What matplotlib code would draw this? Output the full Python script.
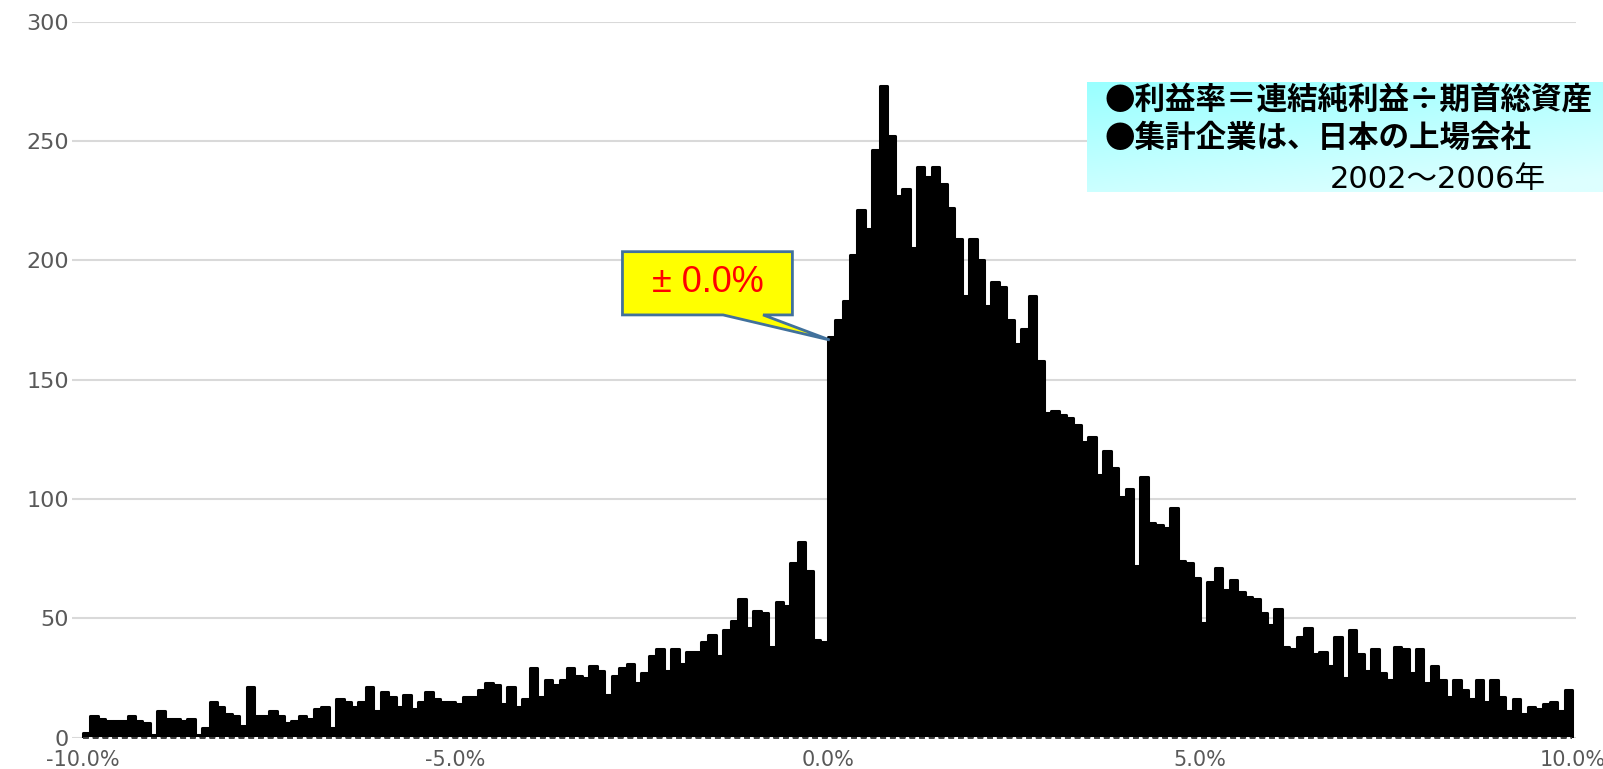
import numpy as np
import matplotlib
matplotlib.use("Agg")
import matplotlib.pyplot as plt
from matplotlib.patches import Polygon

# ---- data -------------------------------------------------------------
# histogram bins: 0.1%-wide classes from -10.0% to +10.0% (left edges)
bin_left = np.round(np.linspace(-10.0, 9.9, 200), 1)

counts_neg = [
    2, 9, 8, 7, 7, 7, 9, 7, 6, 1,        # -10.0 .. -9.1
    11, 8, 8, 7, 8, 1, 4, 15, 13, 10,    # -9.0 .. -8.1
    9, 5, 21, 9, 9, 11, 9, 6, 7, 9,      # -8.0 .. -7.1
    8, 12, 13, 4, 16, 15, 13, 15, 21, 11,  # -7.0 .. -6.1
    19, 17, 13, 18, 12, 15, 19, 16, 15, 15,  # -6.0 .. -5.1
    14, 17, 17, 20, 23, 22, 14, 21, 13, 16,  # -5.0 .. -4.1
    29, 17, 24, 22, 24, 29, 26, 25, 30, 28,  # -4.0 .. -3.1
    18, 26, 29, 31, 23, 27, 34, 37, 28, 37,  # -3.0 .. -2.1
    31, 36, 36, 40, 43, 34, 45, 49, 58, 46,  # -2.0 .. -1.1
    53, 52, 38, 57, 55, 73, 82, 70, 41, 40,  # -1.0 .. -0.1
]
counts_pos = [
    168, 175, 183, 202, 221, 213, 246, 273, 252, 227,  # 0.0 .. 0.9
    230, 205, 239, 235, 239, 232, 222, 209, 185, 209,  # 1.0 .. 1.9
    200, 181, 191, 189, 175, 165, 171, 185, 158, 136,  # 2.0 .. 2.9
    137, 135, 134, 131, 124, 126, 110, 120, 113, 101,  # 3.0 .. 3.9
    104, 72, 109, 90, 89, 88, 96, 74, 73, 67,          # 4.0 .. 4.9
    48, 65, 71, 62, 66, 61, 59, 58, 52, 47,            # 5.0 .. 5.9
    54, 38, 37, 42, 46, 35, 36, 30, 42, 25,            # 6.0 .. 6.9
    45, 35, 28, 37, 27, 24, 38, 37, 27, 37,            # 7.0 .. 7.9
    23, 30, 24, 17, 24, 20, 16, 24, 15, 24,            # 8.0 .. 8.9
    17, 11, 16, 10, 13, 12, 14, 15, 11, 20,            # 9.0 .. 9.9
]
counts = counts_neg + counts_pos

x_ticks = [-10, -5, 0, 5, 10]
x_tick_labels = ["-10.0%", "-5.0%", "0.0%", "5.0%", "10.0%"]
y_ticks = [0, 50, 100, 150, 200, 250, 300]

note_lines = ["●利益率＝連結純利益÷期首総資産", "●集計企業は、日本の上場会社", "2002～2006年"]
callout_text = "± 0.0%"

# ---- figure -----------------------------------------------------------
W, H = 1603, 769
fig = plt.figure(figsize=(W / 100, H / 100), dpi=100)
fig.patch.set_facecolor("white")

ax_l, ax_r, ax_t, ax_b = 72.0, 1576.1, 21.6, 737.6
x_lo = -10.0 - (82.9 - ax_l) / 74.5
ax = fig.add_axes([ax_l / W, 1 - ax_b / H, (ax_r - ax_l) / W, (ax_b - ax_t) / H])

ax.bar(bin_left, counts, width=0.1, align="edge", color="black",
       edgecolor="black", linewidth=2.2, joinstyle="round", zorder=2)

ax.set_xlim(x_lo, 10.05)
ax.set_ylim(0, 300)
ax.set_axisbelow(True)
ax.yaxis.grid(True, color="#d9d9d9", linewidth=1.5)
ax.xaxis.grid(False)
for s in ax.spines.values():
    s.set_visible(False)

ax.hlines(0, -10, 10, colors="#404040", linewidth=1.4,
          linestyles=(0, (3, 2)), gapcolor="white", zorder=4, clip_on=False)

x_font = dict(family="DejaVu Sans", size=15, color="#595959")
y_font = dict(family="DejaVu Sans", size=16, color="#595959")
ax.set_xticks(x_ticks)
ax.set_xticklabels(x_tick_labels, fontdict=x_font)
ax.set_yticks(y_ticks)
ax.set_yticklabels([str(v) for v in y_ticks], fontdict=y_font)
ax.tick_params(axis="both", length=0)
ax.tick_params(axis="x", pad=9)
ax.tick_params(axis="y", pad=2)

# ---- callout "± 0.0%" -------------------------------------------------
L, R, T, B = -2.755, -0.473, 203.6, 177.1
pb1, pb2 = -1.404, -0.867
tip = (0.028, 166.6)
poly = Polygon([(L, T), (R, T), (R, B), (pb2, B), tip, (pb1, B), (L, B)],
               closed=True, facecolor="#FFFF00", edgecolor="#41719C",
               linewidth=2, joinstyle="miter", zorder=6, clip_on=False)
ax.add_patch(poly)
ax.text((L + R) / 2, (T + B) / 2 + 0.5, callout_text, color="#FF0000",
        fontsize=26, family="Liberation Sans", ha="center", va="center",
        zorder=7)

# ---- note box with cyan gradient -------------------------------------
bx0, bx1, by0, by1 = 1086.7, 1603, 82.0, 191.7
bax = fig.add_axes([bx0 / W, 1 - by1 / H, (bx1 - bx0) / W, (by1 - by0) / H])
gy, gx = np.mgrid[0:1:100j, 0:1:200j]
t = np.clip(0.75 * gy + 0.35 * gx, 0, 1)
c0 = np.array([0x99, 0xFF, 0xFF]) / 255
c1 = np.array([0xDD, 0xFF, 0xFF]) / 255
img = c0[None, None, :] * (1 - t[..., None]) + c1[None, None, :] * t[..., None]
bax.imshow(img, aspect="auto", extent=(0, 1, 1, 0), interpolation="bilinear")
bax.set_axis_off()
bax.set_zorder(5)

jp_bold = dict(family=["Noto Sans CJK JP", "DejaVu Sans"], weight="bold",
               size=22, color="black")
jp_reg = dict(family=["DejaVu Sans", "Noto Sans CJK JP"], weight="normal",
              size=22, color="black")
t1 = fig.text(1104 / W, 1 - 99 / H, note_lines[0], ha="left", va="center", **jp_bold)
t2 = fig.text(1104 / W, 1 - 138 / H, note_lines[1], ha="left", va="center", **jp_bold)
t3 = fig.text(1330 / W, 1 - 179 / H, note_lines[2], ha="left", va="center", **jp_reg)
for tt in (t1, t2, t3):
    tt.set_zorder(10)

fig.savefig("out.png", dpi=100, facecolor="white")
